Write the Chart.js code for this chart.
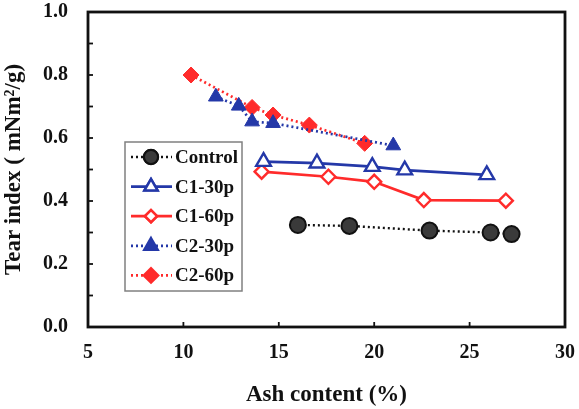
<!DOCTYPE html>
<html>
<head>
<meta charset="utf-8">
<script src="https://cdn.jsdelivr.net/npm/chart.js@4.4.1/dist/chart.umd.min.js"></script>
<style>
  html, body { margin: 0; padding: 0; background: #fff; }
  #wrap { width: 579px; height: 409px; }
</style>
</head>
<body>
<div id="wrap"><canvas id="chart" width="579" height="409"></canvas></div>
<script>
// data
const controlX = [16.0, 18.7, 22.9, 26.1, 27.2];
const controlY = [0.324, 0.321, 0.306, 0.300, 0.295];

const c130X = [14.2, 17.0, 19.9, 21.6, 25.9];
const c130Y = [0.525, 0.520, 0.509, 0.498, 0.483];

const c160X = [14.1, 17.6, 20.0, 22.6, 26.9];
const c160Y = [0.493, 0.477, 0.461, 0.403, 0.401];

const c230X = [11.7, 12.9, 13.6, 14.7, 21.0];
const c230Y = [0.731, 0.702, 0.652, 0.647, 0.576];

const c260X = [10.4, 13.6, 14.7, 16.6, 19.5];
const c260Y = [0.800, 0.697, 0.673, 0.641, 0.583];

const xTicks = [5, 10, 15, 20, 25, 30];
const yTicks = [0.0, 0.2, 0.4, 0.6, 0.8, 1.0];

const BLUE = "#2438a8";
const RED = "#ff2b2b";
const FONT = "'Liberation Serif', 'Times New Roman', serif";

function pts(xs, ys) {
    return xs.map((x, i) => ({ x: x, y: ys[i] }));
}

const datasets = [
    { label: "Control", data: pts(controlX, controlY), borderColor: "#111", backgroundColor: "#3a3a3a",
      pointStyle: "circle", pointRadius: 8, pointBorderWidth: 2, borderWidth: 2.4, borderDash: [2, 3] },
    { label: "C1-30p", data: pts(c130X, c130Y), borderColor: BLUE, backgroundColor: "#fff",
      pointStyle: "triangle", pointRadius: 8.5, pointBorderWidth: 2.4, borderWidth: 2.7, borderDash: [] },
    { label: "C1-60p", data: pts(c160X, c160Y), borderColor: RED, backgroundColor: "#fff",
      pointStyle: "rectRot", pointRadius: 7, pointBorderWidth: 2.4, borderWidth: 2.7, borderDash: [] },
    { label: "C2-30p", data: pts(c230X, c230Y), borderColor: BLUE, backgroundColor: BLUE,
      pointStyle: "triangle", pointRadius: 8.5, pointBorderWidth: 1, borderWidth: 2.7, borderDash: [2, 3] },
    { label: "C2-60p", data: pts(c260X, c260Y), borderColor: RED, backgroundColor: RED,
      pointStyle: "rectRot", pointRadius: 8, pointBorderWidth: 1, borderWidth: 2.7, borderDash: [2, 3] }
];
datasets.forEach(d => {
    d.showLine = true;
    d.pointBackgroundColor = d.backgroundColor;
    d.pointBorderColor = d.borderColor;
    d.fill = false;
});

// frame, inward ticks and boxed legend
const framePlugin = {
    id: "frame",
    afterDraw(chart) {
        const ctx = chart.ctx;
        const a = chart.chartArea;
        const xs = chart.scales.x, ys = chart.scales.y;
        ctx.save();
        ctx.strokeStyle = "#111";
        ctx.lineWidth = 1.8;
        xs.ticks.forEach(t => {
            const px = xs.getPixelForValue(t.value);
            ctx.beginPath(); ctx.moveTo(px, a.bottom); ctx.lineTo(px, a.bottom - 5); ctx.stroke();
        });
        ys.ticks.forEach(t => {
            const py = ys.getPixelForValue(t.value);
            ctx.beginPath(); ctx.moveTo(a.left, py); ctx.lineTo(a.left + 5, py); ctx.stroke();
        });
        ctx.lineWidth = 2.8;
        ctx.strokeRect(a.left, a.top, a.right - a.left, a.bottom - a.top);

        // legend box
        const lx = a.left + 37, ly = a.top + 130, lw = 117, lh = 149;
        ctx.fillStyle = "#fff";
        ctx.fillRect(lx, ly, lw, lh);
        ctx.strokeStyle = "#808080";
        ctx.lineWidth = 1.5;
        ctx.strokeRect(lx, ly, lw, lh);
        chart.data.datasets.forEach((d, i) => {
            const cy = ly + 15 + i * 29.6;
            ctx.strokeStyle = d.borderColor;
            ctx.lineWidth = d.borderWidth;
            ctx.setLineDash(d.borderDash);
            ctx.beginPath(); ctx.moveTo(lx + 6, cy); ctx.lineTo(lx + 47, cy); ctx.stroke();
            ctx.setLineDash([]);
            Chart.helpers.drawPoint(ctx, {
                pointStyle: d.pointStyle, radius: d.pointRadius - 1, borderWidth: d.pointBorderWidth
            }, lx + 26, cy);
            ctx.fillStyle = d.backgroundColor;
            ctx.strokeStyle = d.borderColor;
            ctx.lineWidth = d.pointBorderWidth;
            ctx.fill(); ctx.stroke();
            ctx.fillStyle = "#111";
            ctx.font = "bold 19px " + FONT;
            ctx.textBaseline = "middle";
            ctx.textAlign = "left";
            ctx.fillText(d.label, lx + 50, cy + 1);
        });
        ctx.restore();
    }
};

new Chart(document.getElementById("chart"), {
    type: "scatter",
    data: { datasets: datasets },
    plugins: [framePlugin],
    options: {
        responsive: false,
        animation: false,
        layout: { padding: { top: 0, right: 14, left: 0, bottom: 0 } },
        plugins: { legend: { display: false }, tooltip: { enabled: false } },
        scales: {
            x: {
                type: "linear", min: xTicks[0], max: xTicks[xTicks.length - 1],
                afterBuildTicks: s => { s.ticks = xTicks.map(v => ({ value: v })); },
                afterFit: s => { s.height = 82; s.paddingLeft = 0; s.paddingRight = 0; },
                grid: { display: false, drawTicks: false },
                border: { display: false },
                ticks: { color: "#111", padding: 14, font: { family: FONT, size: 20, weight: "bold" },
                         callback: v => String(v) },
                title: { display: true, text: "Ash content (%)", color: "#111", padding: { top: 0, bottom: 0 },
                         font: { family: FONT, size: 23, weight: "bold" } }
            },
            y: {
                type: "linear", min: 0, max: 1,
                afterBuildTicks: s => {
                    const t = [];
                    for (let i = 0; i <= 10; i++) t.push({ value: i / 10 });
                    s.ticks = t;
                },
                afterFit: s => { s.width = 88; s.paddingTop = 12; s.paddingBottom = 0; },
                grid: { display: false, drawTicks: false },
                border: { display: false },
                ticks: { color: "#111", padding: 20, font: { family: FONT, size: 20, weight: "bold" },
                         callback: v => {
                             const r = Math.round(v * 10);
                             return yTicks.some(t => Math.round(t * 10) === r) ? v.toFixed(1) : "";
                         } },
                title: { display: true, text: "Tear index ( mNm²/g)", color: "#111", padding: { top: 0, bottom: 0 },
                         font: { family: FONT, size: 23, weight: "bold" } }
            }
        }
    }
});
</script>
</body>
</html>
